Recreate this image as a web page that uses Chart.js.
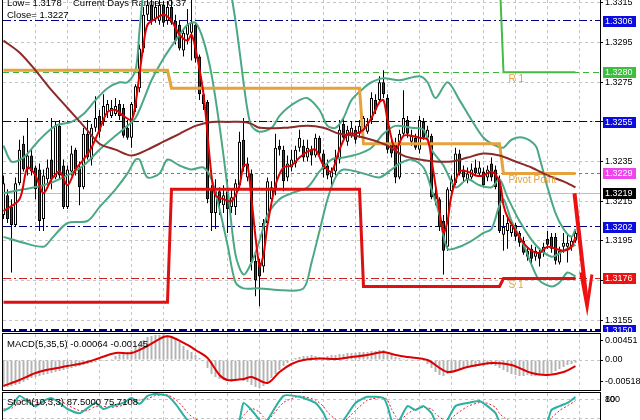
<!DOCTYPE html>
<html>
<head>
<meta charset="utf-8">
<title>EURUSD M5</title>
<script src="https://cdn.jsdelivr.net/npm/chart.js@4/dist/chart.umd.min.js"></script>
<style>
  html, body { margin: 0; padding: 0; background: #fff; }
  #wrap { position: relative; width: 640px; height: 420px; overflow: hidden; background: #fff; }
  canvas { position: absolute; left: 0; }
  #main { top: 0; }
  #macd { top: 333px; }
  #stoch { top: 392px; }
</style>
</head>
<body>
<div id="wrap">
  <canvas id="main" width="640" height="332"></canvas>
  <canvas id="macd" width="640" height="58"></canvas>
  <canvas id="stoch" width="640" height="28"></canvas>
</div>
<script>
'use strict';

// ******* CANDLES (one per bar, bar index = position in array) *******

const barOpen = [
  1.3208, 1.3218, 1.3212, 1.3203, 1.3224, 1.3244, 1.3231, 1.3238, 1.3232, 1.3231,
  1.3206, 1.3226, 1.3236, 1.3227, 1.3253, 1.3233, 1.3212, 1.3230, 1.3241, 1.3232,
  1.3222, 1.3249, 1.3236, 1.3252, 1.3258, 1.3255, 1.3260, 1.3258, 1.3259, 1.3264,
  1.3262, 1.3252, 1.3247, 1.3262, 1.3272, 1.3292, 1.3309, 1.3314, 1.3307, 1.3306,
  1.3314, 1.3306, 1.3313, 1.3306, 1.3304, 1.3291, 1.3299, 1.3300, 1.3304, 1.3288,
  1.3269, 1.3265, 1.3221, 1.3209, 1.3220, 1.3213, 1.3220, 1.3212, 1.3212, 1.3223,
  1.3246, 1.3227, 1.3229, 1.3185, 1.3184, 1.3182, 1.3204, 1.3216, 1.3221, 1.3243,
  1.3241, 1.3227, 1.3232, 1.3234, 1.3242, 1.3243, 1.3237, 1.3241, 1.3238, 1.3247,
  1.3239, 1.3233, 1.3227, 1.3230, 1.3236, 1.3254, 1.3245, 1.3248, 1.3251, 1.3249,
  1.3251, 1.3250, 1.3256, 1.3266, 1.3266, 1.3275, 1.3267, 1.3244, 1.3244, 1.3227,
  1.3249, 1.3256, 1.3245, 1.3247, 1.3241, 1.3255, 1.3247, 1.3248, 1.3219, 1.3216,
  1.3205, 1.3192, 1.3220, 1.3224, 1.3239, 1.3231, 1.3226, 1.3227, 1.3232, 1.3229,
  1.3230, 1.3227, 1.3234, 1.3231, 1.3226, 1.3198, 1.3200, 1.3199, 1.3203, 1.3199,
  1.3195, 1.3190, 1.3191, 1.3187, 1.3189, 1.3189, 1.3196, 1.3197, 1.3197, 1.3184,
  1.3192, 1.3192, 1.3192, 1.3195
];
const barHigh = [
  1.3228, 1.3221, 1.3216, 1.3227, 1.3246, 1.3248, 1.3257, 1.3241, 1.3233, 1.3234,
  1.3231, 1.3236, 1.3257, 1.3255, 1.3256, 1.3236, 1.3233, 1.3243, 1.3242, 1.3235,
  1.3252, 1.3256, 1.3254, 1.3268, 1.3261, 1.3269, 1.3266, 1.3266, 1.3267, 1.3266,
  1.3264, 1.3256, 1.3265, 1.3274, 1.3294, 1.3313, 1.3318, 1.3317, 1.3316, 1.3318,
  1.3316, 1.3316, 1.3317, 1.3309, 1.3306, 1.3302, 1.3312, 1.3317, 1.3305, 1.3289,
  1.3271, 1.3266, 1.3223, 1.3226, 1.3222, 1.3223, 1.3226, 1.3221, 1.3226, 1.3250,
  1.3257, 1.3237, 1.3231, 1.3188, 1.3186, 1.3206, 1.3227, 1.3225, 1.3249, 1.3246,
  1.3243, 1.3238, 1.3241, 1.3243, 1.3251, 1.3246, 1.3246, 1.3243, 1.3249, 1.3248,
  1.3241, 1.3236, 1.3232, 1.3241, 1.3256, 1.3257, 1.3253, 1.3255, 1.3253, 1.3256,
  1.3258, 1.3257, 1.3270, 1.3269, 1.3278, 1.3281, 1.3269, 1.3246, 1.3247, 1.3251,
  1.3271, 1.3258, 1.3251, 1.3249, 1.3258, 1.3257, 1.3253, 1.3249, 1.3222, 1.3217,
  1.3208, 1.3222, 1.3228, 1.3242, 1.3241, 1.3233, 1.3232, 1.3234, 1.3236, 1.3235,
  1.3232, 1.3233, 1.3237, 1.3233, 1.3228, 1.3208, 1.3207, 1.3205, 1.3204, 1.3200,
  1.3197, 1.3192, 1.3193, 1.3192, 1.3191, 1.3194, 1.3200, 1.3199, 1.3199, 1.3192,
  1.3199, 1.3199, 1.3197, 1.3200
];
const barLow = [
  1.3206, 1.3204, 1.3179, 1.3202, 1.3223, 1.3230, 1.3228, 1.3228, 1.3216, 1.3200,
  1.3200, 1.3223, 1.3221, 1.3226, 1.3226, 1.3211, 1.3211, 1.3228, 1.3228, 1.3213,
  1.3221, 1.3236, 1.3233, 1.3250, 1.3247, 1.3253, 1.3257, 1.3257, 1.3258, 1.3256,
  1.3247, 1.3246, 1.3242, 1.3260, 1.3270, 1.3290, 1.3306, 1.3304, 1.3305, 1.3304,
  1.3303, 1.3304, 1.3304, 1.3294, 1.3291, 1.3288, 1.3294, 1.3286, 1.3285, 1.3266,
  1.3261, 1.3214, 1.3200, 1.3201, 1.3208, 1.3209, 1.3199, 1.3209, 1.3208, 1.3221,
  1.3230, 1.3225, 1.3180, 1.3167, 1.3162, 1.3179, 1.3203, 1.3213, 1.3218, 1.3238,
  1.3220, 1.3225, 1.3230, 1.3232, 1.3240, 1.3235, 1.3235, 1.3233, 1.3237, 1.3237,
  1.3227, 1.3226, 1.3222, 1.3228, 1.3234, 1.3246, 1.3243, 1.3247, 1.3244, 1.3247,
  1.3249, 1.3249, 1.3254, 1.3259, 1.3265, 1.3267, 1.3239, 1.3237, 1.3224, 1.3226,
  1.3248, 1.3247, 1.3243, 1.3241, 1.3239, 1.3246, 1.3246, 1.3216, 1.3213, 1.3200,
  1.3178, 1.3190, 1.3218, 1.3223, 1.3228, 1.3225, 1.3224, 1.3226, 1.3228, 1.3228,
  1.3222, 1.3225, 1.3225, 1.3221, 1.3199, 1.3190, 1.3191, 1.3197, 1.3195, 1.3192,
  1.3188, 1.3185, 1.3182, 1.3185, 1.3182, 1.3187, 1.3191, 1.3189, 1.3183, 1.3183,
  1.3189, 1.3184, 1.3190, 1.3194
];
const barClose = [
  1.3224, 1.3206, 1.3203, 1.3224, 1.3241, 1.3231, 1.3238, 1.3230, 1.3221, 1.3205,
  1.3228, 1.3232, 1.3226, 1.3253, 1.3228, 1.3212, 1.3231, 1.3239, 1.3231, 1.3222,
  1.3249, 1.3237, 1.3252, 1.3257, 1.3250, 1.3263, 1.3264, 1.3262, 1.3263, 1.3258,
  1.3248, 1.3247, 1.3264, 1.3273, 1.3292, 1.3309, 1.3314, 1.3306, 1.3313, 1.3314,
  1.3305, 1.3313, 1.3305, 1.3296, 1.3292, 1.3300, 1.3304, 1.3305, 1.3287, 1.3269,
  1.3264, 1.3216, 1.3209, 1.3220, 1.3214, 1.3218, 1.3211, 1.3217, 1.3224, 1.3245,
  1.3232, 1.3234, 1.3184, 1.3175, 1.3177, 1.3204, 1.3225, 1.3222, 1.3242, 1.3241,
  1.3225, 1.3234, 1.3236, 1.3241, 1.3247, 1.3237, 1.3242, 1.3238, 1.3247, 1.3239,
  1.3231, 1.3228, 1.3230, 1.3237, 1.3251, 1.3247, 1.3251, 1.3252, 1.3246, 1.3253,
  1.3257, 1.3254, 1.3267, 1.3261, 1.3275, 1.3269, 1.3241, 1.3239, 1.3227, 1.3249,
  1.3257, 1.3249, 1.3248, 1.3242, 1.3256, 1.3247, 1.3251, 1.3217, 1.3216, 1.3202,
  1.3190, 1.3221, 1.3226, 1.3239, 1.3229, 1.3227, 1.3229, 1.3231, 1.3229, 1.3232,
  1.3223, 1.3231, 1.3227, 1.3222, 1.3200, 1.3202, 1.3204, 1.3203, 1.3197, 1.3194,
  1.3189, 1.3187, 1.3186, 1.3190, 1.3186, 1.3192, 1.3193, 1.3191, 1.3185, 1.3190,
  1.3194, 1.3194, 1.3195, 1.3199
];

// ******* INDICATOR LINES, [bar index, value] *******

const maFast = [
  [0,1.3210],[4,1.3216],[6,1.3232],[8,1.3228],[10,1.3219],[12,1.3226],[14,1.3230],[16,1.3223],
  [18,1.3231],[20,1.3236],[22,1.3242],[24,1.3251],[26,1.3260],[28,1.3261],[30,1.3258],[32,1.3256],
  [33,1.3264],[34,1.3279],[35,1.3294],[36,1.3304],[38,1.3307],[40,1.3309],[42,1.3306],[44,1.3299],
  [46,1.3296],[47,1.3299],[48,1.3292],[50,1.3269],[52,1.3228],[53,1.3218],[55,1.3216],[57,1.3215],
  [59,1.3223],[60,1.3233],[61,1.3233],[62,1.3216],[64,1.3182],[65,1.3188],[66,1.3203],[68,1.3223],
  [70,1.3232],[72,1.3233],[74,1.3237],[76,1.3240],[78,1.3241],[80,1.3233],[82,1.3230],[84,1.3241],
  [86,1.3249],[88,1.3249],[90,1.3251],[92,1.3257],[94,1.3265],[95,1.3266],[96,1.3256],[98,1.3241],
  [100,1.3248],[102,1.3248],[104,1.3247],[106,1.3246],[107,1.3236],[109,1.3210],[110,1.3199],[111,1.3205],
  [112,1.3218],[114,1.3230],[116,1.3230],[118,1.3228],[120,1.3228],[122,1.3230],[124,1.3225],[125,1.3213],
  [126,1.3207],[128,1.3200],[130,1.3194],[132,1.3190],[134,1.3189],[136,1.3192],[138,1.3191],[140,1.3190],
  [142,1.3192],[143,1.3197]
];
const maSlow = [
  [0,1.3296],[4,1.3290],[8,1.3281],[12,1.3271],[16,1.3262],[20,1.3253],[24,1.3244],[28,1.3241],
  [32,1.3238],[36,1.3241],[40,1.3245],[44,1.3249],[48,1.3253],[52,1.3255],[56,1.3255],[60,1.3255],
  [62,1.3254],[64,1.3252],[70,1.3252],[76,1.3253],[80,1.3252],[84,1.3249],[88,1.3248],[92,1.3246],
  [96,1.3243],[100,1.3238],[104,1.3236],[108,1.3235],[112,1.3235],[116,1.3237],[120,1.3239],[124,1.3238],
  [128,1.3235],[132,1.3232],[136,1.3228],[140,1.3225],[143,1.3222]
];
const bandUpper = [
  [0,1.3243],[2,1.3235],[5,1.3237],[9,1.3246],[13,1.3253],[17,1.3255],[20,1.3259],[23,1.3266],
  [26,1.3272],[29,1.3275],[31,1.3275],[33,1.3281],[34,1.3301],[35,1.3322],[36,1.3337],[56,1.3337],
  [57,1.3319],[58,1.3306],[59,1.3291],[60,1.3275],[61,1.3261],[62,1.3253],[64,1.3250],[67,1.3252],
  [69,1.3258],[71,1.3262],[74,1.3266],[76,1.3267],[79,1.3261],[81,1.3253],[83,1.3252],[85,1.3257],
  [87,1.3266],[90,1.3272],[92,1.3275],[95,1.3277],[99,1.3276],[104,1.3278],[106,1.3275],[108,1.3267],
  [111,1.3275],[114,1.3266],[117,1.3256],[120,1.3247],[123,1.3243],[125,1.3242],[127,1.3246],[130,1.3247],
  [133,1.3243],[134,1.3237],[136,1.3222],[138,1.3209],[140,1.3201],[142,1.3197],[143,1.3201]
];
const bandMiddle = [
  [0,1.3219],[5,1.3221],[10,1.3223],[15,1.3227],[20,1.3233],[24,1.3241],[28,1.3248],[31,1.3253],
  [33,1.3257],[35,1.3266],[37,1.3276],[40,1.3287],[43,1.3296],[46,1.3304],[48,1.3305],[50,1.3296],
  [52,1.3279],[54,1.3253],[56,1.3222],[58,1.3188],[60,1.3178],[62,1.3184],[64,1.3195],[66,1.3208],
  [69,1.3216],[72,1.3219],[76,1.3222],[79,1.3230],[82,1.3236],[85,1.3237],[89,1.3239],[92,1.3242],
  [95,1.3249],[98,1.3253],[102,1.3252],[105,1.3251],[107,1.3241],[110,1.3233],[113,1.3222],[116,1.3226],
  [119,1.3223],[122,1.3222],[124,1.3226],[126,1.3217],[129,1.3205],[133,1.3193],[137,1.3187],[140,1.3190],
  [143,1.3193]
];
const bandLower = [
  [0,1.3197],[5,1.3194],[10,1.3192],[12,1.3196],[16,1.3204],[21,1.3205],[24,1.3212],[28,1.3221],
  [31,1.3229],[33,1.3236],[34,1.3236],[36,1.3227],[39,1.3229],[41,1.3236],[44,1.3233],[47,1.3231],
  [50,1.3232],[52,1.3226],[54,1.3211],[56,1.3193],[58,1.3174],[60,1.3171],[64,1.3171],[70,1.3170],
  [75,1.3171],[77,1.3184],[79,1.3200],[81,1.3216],[83,1.3227],[85,1.3231],[90,1.3229],[94,1.3227],
  [97,1.3231],[99,1.3234],[102,1.3236],[105,1.3232],[107,1.3221],[109,1.3208],[111,1.3191],[114,1.3192],
  [117,1.3195],[120,1.3199],[122,1.3201],[124,1.3213],[125,1.3216],[126,1.3211],[127,1.3205],[130,1.3193],
  [132,1.3183],[134,1.3175],[137,1.3172],[139,1.3174],[141,1.3179],[143,1.3177]
];

// daily pivot levels (stepped)
const pivotLine = [[0,1.3281],[41,1.3281],[42,1.3272],[89,1.3272],[90,1.3244],[124,1.3244],[125,1.3229],[143,1.3229]];
const s1Line = [[0,1.3164],[41,1.3164],[42,1.3221],[89,1.3221],[90,1.3172],[124,1.3172],[125,1.3176],[143,1.3176]];
const r1Line = [[124,1.3330],[125,1.3280],[143,1.3280]];

// forecast arrow
const arrowShaft = [[142.75,1.3219],[145.7,1.3166]];
const arrowHead = [[144.3,1.3179],[145.9,1.31615],[147.1,1.3178]];

// horizontal price levels and their tags
const levelValues = [1.3306, 1.3280, 1.3255, 1.3229, 1.3219, 1.3202, 1.3176, 1.3150];
const tagNames = ['R 1', 'Pivot Point', 'S 1'];
const tagLevels = [1.3280, 1.3229, 1.3176];
const tagBar = 126;

const priceTicks = [1.3155, 1.3175, 1.3195, 1.3215, 1.3235, 1.3255, 1.3275, 1.3295, 1.3315];
const priceTop = 1.33165;
const priceBottom = 1.31495;

const headerText = ['Low= 1.3178', 'Current Days Range= 0.37', 'Close= 1.3227'];

// ******* MACD(5,35,5) *******

const macdHist = [
  -0.00640, -0.00640, -0.00616, -0.00593, -0.00569, -0.00521, -0.00474, -0.00427, -0.00403, -0.00379,
  -0.00356, -0.00332, -0.00308, -0.00284, -0.00261, -0.00237, -0.00213, -0.00190, -0.00166, -0.00142,
  -0.00119, -0.00095, -0.00071, -0.00047, -0.00024, -0.00024, -0.00005, 0.00024, 0.00095, 0.00142,
  0.00166, 0.00190, 0.00237, 0.00308, 0.00379, 0.00474, 0.00545, 0.00569, 0.00593, 0.00593,
  0.00616, 0.00593, 0.00569, 0.00521, 0.00427, 0.00332, 0.00237, 0.00190, 0.00119, 0.00047,
  -0.00005, -0.00190, -0.00332, -0.00403, -0.00450, -0.00474, -0.00498, -0.00521, -0.00498, -0.00474,
  -0.00498, -0.00521, -0.00593, -0.00640, -0.00664, -0.00616, -0.00521, -0.00427, -0.00332, -0.00237,
  -0.00142, -0.00071, -0.00005, 0.00047, 0.00071, 0.00095, 0.00095, 0.00119, 0.00095, 0.00071,
  0.00071, 0.00095, 0.00119, 0.00119, 0.00142, 0.00142, 0.00166, 0.00166, 0.00166, 0.00190,
  0.00190, 0.00190, 0.00213, 0.00213, 0.00237, 0.00237, 0.00190, 0.00119, 0.00071, 0.00047,
  0.00024, 0.00024, 0.00005, -0.00005, -0.00005, -0.00024, -0.00095, -0.00190, -0.00284, -0.00356,
  -0.00379, -0.00332, -0.00284, -0.00237, -0.00213, -0.00190, -0.00190, -0.00166, -0.00166, -0.00142,
  -0.00142, -0.00119, -0.00119, -0.00142, -0.00190, -0.00237, -0.00284, -0.00332, -0.00356, -0.00379,
  -0.00379, -0.00356, -0.00379, -0.00379, -0.00356, -0.00356, -0.00332, -0.00308, -0.00261, -0.00213,
  -0.00166, -0.00119, -0.00095, -0.00064
];
const macdSignal = [
  [0,-0.00616],[4,-0.00474],[8,-0.00308],[12,-0.00213],[16,-0.00142],[20,-0.00071],[24,0.00047],[28,0.00166],
  [32,0.00166],[36,0.00332],[40,0.00545],[42,0.00545],[46,0.00356],[48,0.00237],[51,0.00047],[54,-0.00356],
  [56,-0.00474],[60,-0.00450],[62,-0.00403],[66,-0.00545],[69,-0.00284],[72,-0.00095],[75,0.00000],[79,0.00036],
  [83,0.00024],[87,0.00071],[91,0.00119],[95,0.00190],[98,0.00119],[101,0.00071],[106,0.00000],[111,-0.00284],
  [116,-0.00166],[122,-0.00071],[127,-0.00119],[132,-0.00308],[136,-0.00356],[140,-0.00284],[143,-0.00145]
];
const macdTicks = [0.00451, 0, -0.00518];
const macdTickLabels = ['0.00451', '0.00', '-0.00518'];
const macdTop = 0.00616;
const macdBottom = -0.00687;
const macdTitle = 'MACD(5,35,5) -0.00064 -0.00145';

// ******* STOCHASTIC(10,3,3) *******

const stochMain = [
  [0,44],[2,59],[4,91],[6,75],[8,59],[10,75],[12,84],[14,69],[16,50],[19,37],[21,53],[23,69],
  [25,50],[27,59],[30,69],[32,84],[34,66],[36,91],[38,97],[41,91],[43,66],[45,31],[46,16],[48,5],
  [52,2],[56,5],[58,9],[59,16],[60,69],[62,47],[64,16],[65,6],[66,16],[70,91],[74,88],[78,69],
  [80,37],[81,12],[83,3],[85,16],[88,69],[91,88],[95,84],[96,59],[97,16],[98,8],[99,16],[101,59],
  [103,47],[105,59],[107,37],[108,12],[110,3],[111,16],[113,59],[116,69],[119,75],[121,59],[123,37],[124,12],
  [126,3],[130,1],[135,4],[136,12],[137,47],[139,59],[141,69],[143,87.5]
];
const stochSignal = [
  [0,50],[2,52],[4,70],[6,80],[8,72],[10,68],[12,78],[14,78],[16,62],[19,45],[21,45],[23,58],
  [25,58],[27,55],[30,62],[32,76],[34,78],[36,82],[38,92],[41,94],[43,80],[45,55],[46,38],[48,18],
  [52,4],[56,3],[58,6],[59,10],[60,30],[62,52],[64,40],[65,25],[66,14],[70,70],[74,90],[78,78],
  [80,58],[81,40],[83,18],[85,10],[88,45],[91,78],[95,86],[96,78],[97,50],[98,28],[99,14],[101,35],
  [103,50],[105,55],[107,50],[108,35],[110,16],[111,10],[113,32],[116,58],[119,70],[121,68],[123,55],[124,36],
  [126,16],[130,3],[135,2],[136,6],[137,22],[139,45],[141,60],[143,75.71]
];
const stochLevels = [80, 20];
const stochAxisLabels = ['100', '80'];
const stochTop = 100;
const stochBottom = 15.6;
const stochTitle = 'Stoch(10,3,3) 87.5000 75.7108';


// ******* STYLES *******

const FONT = 'Liberation Sans';
const GRID = '#c4c4c4';
const TAG_COLOR = '#e6a23c';
const DASHDOT = [8, 3, 2, 3];

// one entry per levelValues item
const levelStyle = [
  { line: '#00007f', dash: DASHDOT, width: 1, box: '#0c0ce0' },
  { line: '#3cb43c', dash: [6, 4], width: 1, box: '#3cbf3c' },
  { line: '#00007f', dash: DASHDOT, width: 1, box: '#0c0ce0' },
  { line: '#d23cd2', dash: [3, 3], width: 1, box: '#ee44ee' },
  { line: '#c0c0c0', dash: [], width: 1, box: '#000000' },
  { line: '#00007f', dash: DASHDOT, width: 1, box: '#0c0ce0' },
  { line: '#cc2020', dash: DASHDOT, width: 1, box: '#ee1111' },
  { line: '#00007f', dash: DASHDOT, width: 2, box: '#0c0ce0' }
];

Chart.defaults.font.family = FONT;
Chart.defaults.font.size = 9;
Chart.defaults.color = '#000';


// ****** HELPER FUNCTIONS ******

function toPoints(pairs) {
  return pairs.map(p => ({ x: p[0], y: p[1] }));
}

function crisp(p) {
  return Math.floor(p) + 0.5;
}

function hLine(ctx, x1, x2, y) {
  ctx.beginPath();
  ctx.moveTo(x1, y);
  ctx.lineTo(x2, y);
  ctx.stroke();
}

function vLine(ctx, x, y1, y2) {
  ctx.beginPath();
  ctx.moveTo(x, y1);
  ctx.lineTo(x, y2);
  ctx.stroke();
}

function lineSet(pairs, color, width, order, extra) {
  return Object.assign({
    type: 'line',
    data: toPoints(pairs),
    borderColor: color,
    borderWidth: width,
    pointRadius: 0,
    tension: 0.3,
    fill: false,
    order: order
  }, extra || {});
}

function barScaleX() {
  return { type: 'linear', min: -0.125, max: 149.125, offset: false, display: false };
}

function rightAxis(min, max, extra) {
  return Object.assign({
    type: 'linear',
    position: 'right',
    min: min,
    max: max,
    afterFit: s => { s.width = 40; s.paddingTop = 0; s.paddingBottom = 0; },
    grid: { display: true, drawOnChartArea: false, drawTicks: true, tickLength: 3, color: '#000' },
    border: { display: true, color: '#000' }
  }, extra);
}

// vertical grid every 8 bars, shared by all panes
function drawBarGrid(chart) {
  const { ctx, chartArea: a, scales: { x } } = chart;
  ctx.save();
  ctx.strokeStyle = GRID;
  ctx.lineWidth = 1;
  ctx.setLineDash([3, 3]);
  for (let b = 8; b < 149; b += 8) {
    vLine(ctx, crisp(x.getPixelForValue(b)), a.top, a.bottom);
  }
  ctx.restore();
}

function baseOptions(padding, yScale) {
  return {
    responsive: false,
    animation: false,
    devicePixelRatio: 1,
    layout: { padding: padding },
    plugins: { legend: { display: false }, tooltip: { enabled: false } },
    scales: { x: barScaleX(), y: yScale }
  };
}


// ****** MAIN PANE ******

let bodies = [];
let wicks = [];
let bodyColors = [];
for (let i = 0; i < barOpen.length; i++) {
  bodies.push({ x: i, y: [barOpen[i], barClose[i]] });
  wicks.push({ x: i, y: [barLow[i], barHigh[i]] });
  bodyColors.push(barClose[i] >= barOpen[i] ? '#ffffff' : '#1e5a1e');
}

const mainDecor = {
  id: 'mainDecor',
  beforeDatasetsDraw(chart) {
    const { ctx, chartArea: a, scales: { y } } = chart;
    ctx.save();
    ctx.strokeStyle = GRID;
    ctx.lineWidth = 1;
    ctx.setLineDash([3, 3]);
    priceTicks.forEach(v => hLine(ctx, a.left, a.right, crisp(y.getPixelForValue(v))));
    ctx.restore();
    drawBarGrid(chart);

    // header text
    ctx.save();
    ctx.fillStyle = '#000';
    ctx.font = '9.5px "' + FONT + '"';
    ctx.textBaseline = 'alphabetic';
    ctx.fillText(headerText[0], 7, 6);
    ctx.fillText(headerText[1], 73, 6);
    ctx.fillText(headerText[2], 7, 18);
    ctx.restore();

    // price levels
    levelValues.forEach((v, i) => {
      const st = levelStyle[i];
      ctx.save();
      ctx.strokeStyle = st.line;
      ctx.lineWidth = st.width;
      ctx.setLineDash(st.dash);
      const py = st.width % 2 ? crisp(y.getPixelForValue(v)) : Math.round(y.getPixelForValue(v));
      hLine(ctx, a.left, a.right, py);
      ctx.restore();
    });
  },
  afterDatasetsDraw(chart) {
    const { ctx, scales: { x, y } } = chart;
    ctx.save();
    ctx.fillStyle = TAG_COLOR;
    ctx.font = '10px "' + FONT + '"';
    ctx.textBaseline = 'middle';
    tagNames.forEach((t, i) => {
      ctx.fillText(t, x.getPixelForValue(tagBar) + 1, y.getPixelForValue(tagLevels[i]) + 7);
    });
    ctx.restore();
  },
  afterDraw(chart) {
    const { ctx, chartArea: a, scales: { y } } = chart;
    ctx.save();
    ctx.font = '9px "' + FONT + '"';
    ctx.textBaseline = 'middle';
    levelValues.forEach((v, i) => {
      const py = Math.round(y.getPixelForValue(v));
      ctx.fillStyle = levelStyle[i].box;
      ctx.fillRect(a.right + 3, py - 5, 33, 11);
      ctx.fillStyle = '#fff';
      ctx.fillText(v.toFixed(4), a.right + 5, py + 0.5);
    });
    // frame
    ctx.strokeStyle = '#000';
    ctx.lineWidth = 1;
    vLine(ctx, 2.5, 0, 332);
    hLine(ctx, 2, a.right + 1, 331.5);
    ctx.restore();
  }
};

const mainChart = new Chart(document.getElementById('main'), {
  type: 'bar',
  data: {
    datasets: [
      lineSet(arrowShaft, '#ee1111', 4, 1, { tension: 0 }),
      lineSet(arrowHead, '#ee1111', 3, 1, { tension: 0 }),
      lineSet(maFast, '#e00000', 2, 2),
      lineSet(maSlow, '#8c2a2a', 2, 3),
      lineSet(r1Line, '#44bb44', 2, 4, { tension: 0 }),
      lineSet(pivotLine, '#e6a23c', 3, 4, { tension: 0 }),
      lineSet(s1Line, '#dd1111', 3, 4, { tension: 0 }),
      lineSet(bandUpper, '#4aa883', 2, 5),
      lineSet(bandMiddle, '#4aa883', 2, 5),
      lineSet(bandLower, '#4aa883', 2, 5),
      {
        type: 'bar', data: bodies, backgroundColor: bodyColors, borderColor: '#000',
        borderWidth: 1, borderSkipped: false, barThickness: 3, minBarLength: 1,
        inflateAmount: 0, grouped: false, order: 19
      },
      {
        type: 'bar', data: wicks, backgroundColor: '#000', borderWidth: 0,
        barThickness: 1, inflateAmount: 0, grouped: false, order: 20
      }
    ]
  },
  options: baseOptions({ left: 3, top: 0, right: 0, bottom: 1 }, rightAxis(priceBottom, priceTop, {
    afterBuildTicks: s => { s.ticks = priceTicks.map(v => ({ value: v })); },
    ticks: { callback: v => v.toFixed(4), padding: 2, autoSkip: false, font: { size: 9 } }
  })),
  plugins: [mainDecor]
});


// ****** MACD PANE ******

const macdDecor = {
  id: 'macdDecor',
  beforeDatasetsDraw(chart) {
    const { ctx, chartArea: a, scales: { y } } = chart;
    drawBarGrid(chart);
    ctx.save();
    ctx.strokeStyle = GRID;
    ctx.setLineDash([3, 3]);
    hLine(ctx, a.left, a.right, crisp(y.getPixelForValue(0)));
    ctx.restore();
  },
  afterDraw(chart) {
    const { ctx, chartArea: a } = chart;
    ctx.save();
    ctx.fillStyle = '#000';
    ctx.font = '9.5px "' + FONT + '"';
    ctx.fillText(macdTitle, 7, 14);
    ctx.strokeStyle = '#000';
    vLine(ctx, 2.5, 0, 58);
    hLine(ctx, 2, a.right + 1, 0.5);
    hLine(ctx, 2, a.right + 1, 57.5);
    ctx.restore();
  }
};

const macdChart = new Chart(document.getElementById('macd'), {
  type: 'bar',
  data: {
    datasets: [
      lineSet(macdSignal, '#dd0000', 2, 1),
      {
        type: 'bar', data: macdHist.map((v, i) => ({ x: i, y: v })), backgroundColor: '#b4b4b4',
        borderWidth: 0, barThickness: 2, inflateAmount: 0, grouped: false, order: 2
      }
    ]
  },
  options: baseOptions({ left: 3, top: 1, right: 0, bottom: 2 }, rightAxis(macdBottom, macdTop, {
    afterBuildTicks: s => { s.ticks = macdTicks.map(v => ({ value: v })); },
    ticks: { callback: (v, i) => macdTickLabels[i], padding: 2, autoSkip: false, font: { size: 9 } }
  })),
  plugins: [macdDecor]
});


// ****** STOCHASTIC PANE ******

const stochDecor = {
  id: 'stochDecor',
  beforeDatasetsDraw(chart) {
    const { ctx, chartArea: a, scales: { y } } = chart;
    drawBarGrid(chart);
    ctx.save();
    ctx.strokeStyle = GRID;
    ctx.setLineDash([3, 3]);
    stochLevels.forEach(v => hLine(ctx, a.left, a.right, crisp(y.getPixelForValue(v))));
    ctx.restore();
  },
  afterDraw(chart) {
    const { ctx, chartArea: a, scales: { y } } = chart;
    ctx.save();
    ctx.fillStyle = '#000';
    ctx.font = '9.5px "' + FONT + '"';
    ctx.fillText(stochTitle, 7, 13);
    // the top label is pinned next to the 80 level, as the terminal does
    ctx.font = '9px "' + FONT + '"';
    ctx.textBaseline = 'middle';
    const labelY = y.getPixelForValue(stochLevels[0]) + 0.5;
    stochAxisLabels.forEach(t => ctx.fillText(t, a.right + 5, labelY));
    ctx.strokeStyle = '#000';
    vLine(ctx, 2.5, 0, 28);
    hLine(ctx, 2, a.right + 1, 0.5);
    ctx.restore();
  }
};

const stochChart = new Chart(document.getElementById('stoch'), {
  type: 'line',
  data: {
    datasets: [
      lineSet(stochMain, '#2bb0a3', 2, 1, { tension: 0.2 }),
      lineSet(stochSignal, '#e02020', 1, 2, { tension: 0.2, borderDash: [2, 2] })
    ]
  },
  options: baseOptions({ left: 3, top: 1, right: 0, bottom: 0 }, rightAxis(stochBottom, stochTop, {
    ticks: { display: false },
    grid: { display: false }
  })),
  plugins: [stochDecor]
});
</script>
</body>
</html>
